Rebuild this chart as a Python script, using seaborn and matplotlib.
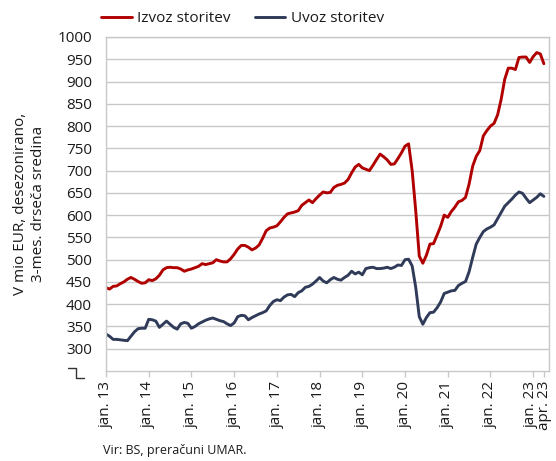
import numpy as np
import pandas as pd
import matplotlib
matplotlib.use("Agg")
import matplotlib.pyplot as plt
import matplotlib.transforms as mtrans
import seaborn as sns

# ---- data (monthly, jan. 2013 - apr. 2023) ----
izvoz = [437, 434, 440, 441, 446, 450, 456, 460, 456, 451, 447, 448,
         455, 453, 457, 465, 477, 482, 483, 482, 482, 479, 474, 477,
         479, 482, 485, 491, 489, 491, 493, 500, 497, 495, 495, 502,
         512, 524, 532, 532, 528, 522, 526, 533, 548, 565, 571, 573,
         576, 585, 595, 603, 605, 607, 610, 622, 628, 634, 628, 637,
         645, 652, 650, 651, 662, 667, 669, 672, 680, 695, 708, 714,
         706, 703, 700, 712, 725, 737, 731, 724, 714, 715, 727, 740,
         755, 760, 700, 610, 508, 492, 510, 535, 536, 555, 575, 600,
         595, 608, 618, 630, 633, 640, 670, 710, 732, 745, 778, 790,
         800, 806, 825, 860, 905, 930, 930, 927, 954, 955, 955, 943,
         956, 965, 962, 940]
uvoz = [333, 328, 321, 321, 320, 319, 318, 328, 338, 345, 346, 346,
        366, 365, 362, 348, 355, 362, 355, 348, 344, 356, 359, 357,
        346, 350, 356, 360, 364, 367, 369, 366, 363, 361, 356, 352,
        358, 372, 375, 374, 365, 370, 374, 378, 381, 385, 397, 406,
        410, 408, 416, 421, 422, 417, 426, 430, 438, 440, 445, 452,
        460, 452, 448, 455, 460, 456, 454, 460, 465, 474, 468, 472,
        466, 480, 482, 483, 480, 480, 481, 483, 480, 483, 488, 487,
        500, 501, 486, 438, 372, 355, 370, 381, 382, 392, 405, 424,
        427, 430, 431, 442, 447, 451, 473, 505, 535, 550, 563, 569,
        573, 578, 592, 606, 620, 628, 636, 645, 652, 649, 638, 628,
        634, 640, 648, 642]
series_names = ["Izvoz storitev", "Uvoz storitev"]
tick_labels = ["jan. 13", "jan. 14", "jan. 15", "jan. 16", "jan. 17", "jan. 18",
               "jan. 19", "jan. 20", "jan. 21", "jan. 22", "jan. 23", "apr. 23"]
tick_months = [0, 12, 24, 36, 48, 60, 72, 84, 96, 108, 120, 123]
y_ticks = [300, 350, 400, 450, 500, 550, 600, 650, 700, 750, 800, 850, 900, 950, 1000]

months = np.arange(len(izvoz))
df = pd.DataFrame({
    "mesec": np.concatenate([months, months]),
    "vrednost": izvoz + uvoz,
    "serija": [series_names[0]] * len(izvoz) + [series_names[1]] * len(uvoz),
})

sns.set_theme(style="white")
plt.rcParams["font.family"] = ["Open Sans", "DejaVu Sans"]

fig = plt.figure(figsize=(5.56, 4.61), dpi=100)
ax = fig.add_axes([106 / 556, 1 - 371 / 461, (548.5 - 106) / 556, (371 - 37) / 461])

grid_c = "#C8C8C8"
sns.lineplot(data=df, x="mesec", y="vrednost", hue="serija",
             palette={series_names[0]: "#B00000", series_names[1]: "#2F3B58"},
             linewidth=2.1, ax=ax, legend=True)

ax.set_xlim(0, 124.3)
ax.set_ylim(250, 1000)
ax.set_yticks(y_ticks)
ax.set_yticklabels([str(v) for v in y_ticks], fontsize=11, color="#1a1a1a")
ax.yaxis.grid(True, color=grid_c, linewidth=1.0)
ax.set_axisbelow(True)
ax.tick_params(axis="y", length=0, pad=10)
ax.set_xticks(tick_months)
ax.set_xticklabels(tick_labels, rotation=90, fontsize=11, color="#1a1a1a")
ax.tick_params(axis="x", length=4, width=1, color=grid_c, pad=3, direction="out", bottom=True)
xlabels = ax.get_xticklabels()
xlabels[-2].set_transform(xlabels[-2].get_transform() +
                          mtrans.ScaledTranslation(-2 / 100, 0, fig.dpi_scale_trans))
xlabels[-1].set_transform(xlabels[-1].get_transform() +
                          mtrans.ScaledTranslation(1 / 100, 0, fig.dpi_scale_trans))
for s in ax.spines.values():
    s.set_color(grid_c)
    s.set_linewidth(1.0)
ax.set_xlabel("")
ax.set_ylabel("V mio EUR, desezonirano,\n3-mes. drseča sredina", fontsize=11,
              color="#1a1a1a", labelpad=8, linespacing=1.35)

# axis break mark
ax.plot([-0.085, -0.067, -0.067, -0.049], [0.008, 0.008, -0.02, -0.02],
        transform=ax.transAxes, clip_on=False, color="#333333", lw=1.0)

leg = ax.legend(loc="upper left", bbox_to_anchor=(-0.025, 1.095), ncol=2,
                frameon=False, fontsize=11, handlelength=2.0, columnspacing=1.6,
                handletextpad=0.35, borderaxespad=0)
for t in leg.get_texts():
    t.set_color("#1a1a1a")

fig.text(103 / 556, 1 - 450 / 461, "Vir: BS, preračuni UMAR.", fontsize=9,
         color="#1a1a1a", va="center", ha="left")

fig.savefig("out.png", dpi=100)
